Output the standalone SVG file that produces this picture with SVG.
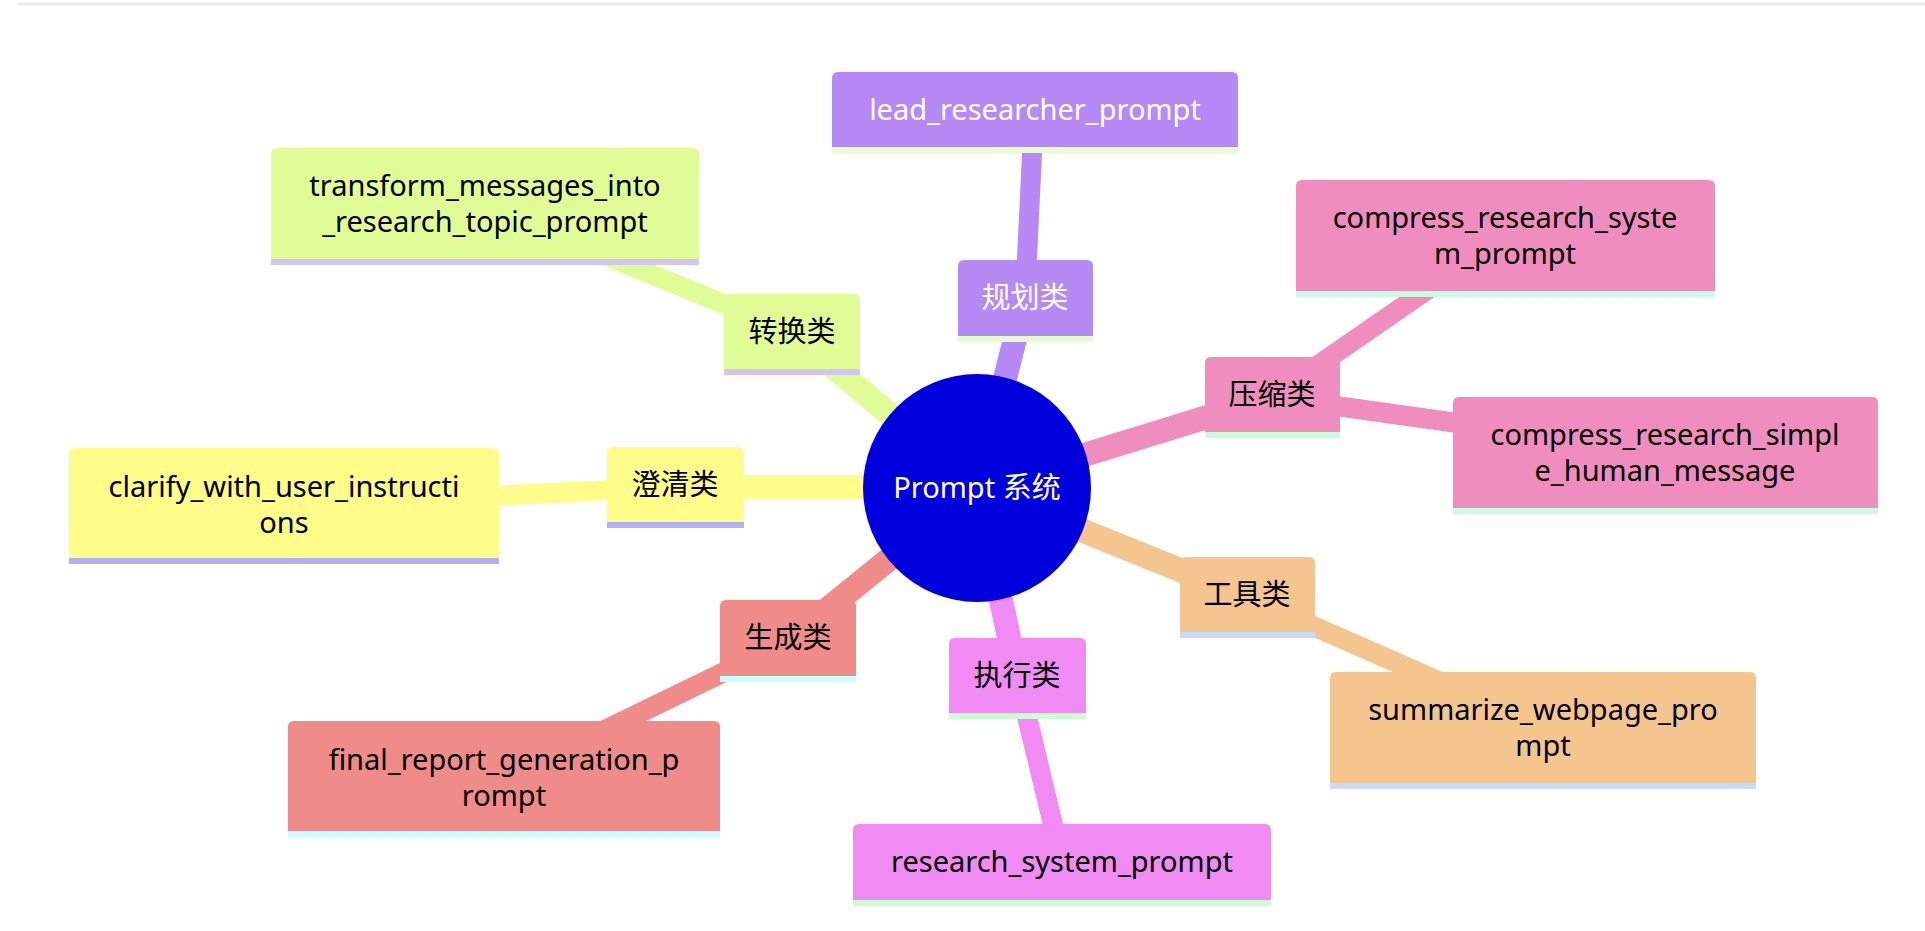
<svg xmlns="http://www.w3.org/2000/svg" width="1925" height="931" viewBox="0 0 1925 931">
<style>
text{font-family:"Noto Sans","Noto Sans CJK SC",sans-serif;font-size:29px;text-anchor:middle;fill:#000}
.w{fill:#fff}
.c1{stroke-width:24;fill:none}
.c2{stroke-width:20;fill:none}
</style>
<rect width="1925" height="931" fill="#fff"/>
<line x1="18" y1="4" x2="1925" y2="4" stroke="#ececec" stroke-width="3"/>
<g id="connectors">
<line class="c1" stroke="#b689f4" x1="977" y1="488" x2="1025" y2="300"/>
<line class="c2" stroke="#b689f4" x1="1025" y1="300" x2="1034" y2="112"/>
<line class="c1" stroke="#e0fc96" x1="977" y1="488" x2="792" y2="332"/>
<line class="c2" stroke="#e0fc96" x1="792" y1="332" x2="485" y2="206"/>
<line class="c1" stroke="#fffc8a" x1="977" y1="487" x2="675" y2="487"/>
<line class="c2" stroke="#fffc8a" x1="675" y1="487" x2="284" y2="506"/>
<line class="c1" stroke="#ef8b88" x1="977" y1="488" x2="788" y2="641"/>
<line class="c2" stroke="#ef8b88" x1="788" y1="641" x2="504" y2="779"/>
<line class="c1" stroke="#f08bf4" x1="977" y1="488" x2="1017" y2="675"/>
<line class="c2" stroke="#f08bf4" x1="1017" y1="675" x2="1062" y2="862"/>
<line class="c1" stroke="#f5c590" x1="977" y1="488" x2="1247" y2="597"/>
<line class="c2" stroke="#f5c590" x1="1247" y1="597" x2="1543" y2="727"/>
<line class="c1" stroke="#ef8dbe" x1="977" y1="488" x2="1272" y2="397"/>
<line class="c2" stroke="#ef8dbe" x1="1272" y1="397" x2="1505" y2="236"/>
<line class="c2" stroke="#ef8dbe" x1="1272" y1="397" x2="1665" y2="452"/>
</g>
<g id="center">
<circle cx="977" cy="488" r="114" fill="#0000dd"/>
<text class="w" x="977" y="498">Prompt 系统</text>
</g>
<g id="n-lead">
<path d="M832,147 V78 Q832,72 838,72 H1232 Q1238,72 1238,78 V147 Z" fill="#b689f4"/>
<rect x="832" y="147" width="406" height="6" fill="#e6fccc"/>
<text class="w" x="1035" y="120">lead_researcher_prompt</text>
</g>
<g id="n-plan">
<path d="M958,336 V266 Q958,260 964,260 H1087 Q1093,260 1093,266 V336 Z" fill="#b689f4"/>
<rect x="958" y="336" width="135" height="6" fill="#e6fccc"/>
<text class="w" x="1025" y="308">规划类</text>
</g>
<g id="n-transform">
<path d="M271,259 V154 Q271,148 277,148 H693 Q699,148 699,154 V259 Z" fill="#e0fc96"/>
<rect x="271" y="259" width="428" height="6" fill="#d2c4f4"/>
<text x="485" y="196">transform_messages_into</text>
<text x="485" y="232">_research_topic_prompt</text>
</g>
<g id="n-convert">
<path d="M724,369 V300 Q724,294 730,294 H854 Q860,294 860,300 V369 Z" fill="#e0fc96"/>
<rect x="724" y="369" width="136" height="6" fill="#d2c4f4"/>
<text x="792" y="342">转换类</text>
</g>
<g id="n-compress-sys">
<path d="M1296,291 V186 Q1296,180 1302,180 H1709 Q1715,180 1715,186 V291 Z" fill="#ef8dbe"/>
<rect x="1296" y="291" width="419" height="6" fill="#ccfce0"/>
<text x="1505" y="228">compress_research_syste</text>
<text x="1505" y="264">m_prompt</text>
</g>
<g id="n-compress">
<path d="M1205,432 V363 Q1205,357 1211,357 H1334 Q1340,357 1340,363 V432 Z" fill="#ef8dbe"/>
<rect x="1205" y="432" width="135" height="6" fill="#ccfce0"/>
<text x="1272" y="405">压缩类</text>
</g>
<g id="n-compress-simple">
<path d="M1453,508 V403 Q1453,397 1459,397 H1872 Q1878,397 1878,403 V508 Z" fill="#ef8dbe"/>
<rect x="1453" y="508" width="425" height="6" fill="#ccfce0"/>
<text x="1665" y="445">compress_research_simpl</text>
<text x="1665" y="481">e_human_message</text>
</g>
<g id="n-clarify">
<path d="M69,558 V454 Q69,448 75,448 H493 Q499,448 499,454 V558 Z" fill="#fffc8a"/>
<rect x="69" y="558" width="430" height="6" fill="#b0b0f5"/>
<text x="284" y="497">clarify_with_user_instructi</text>
<text x="284" y="533">ons</text>
</g>
<g id="n-clarify-cat">
<path d="M607,522 V453 Q607,447 613,447 H738 Q744,447 744,453 V522 Z" fill="#fffc8a"/>
<rect x="607" y="522" width="137" height="6" fill="#b0b0f5"/>
<text x="675" y="495">澄清类</text>
</g>
<g id="n-gen">
<path d="M720,676 V606 Q720,600 726,600 H850 Q856,600 856,606 V676 Z" fill="#ef8b88"/>
<rect x="720" y="676" width="136" height="6" fill="#ccffff"/>
<text x="788" y="648">生成类</text>
</g>
<g id="n-final">
<path d="M288,831 V727 Q288,721 294,721 H714 Q720,721 720,727 V831 Z" fill="#ef8b88"/>
<rect x="288" y="831" width="432" height="6" fill="#ccffff"/>
<text x="504" y="770">final_report_generation_p</text>
<text x="504" y="806">rompt</text>
</g>
<g id="n-exec">
<path d="M949,713 V644 Q949,638 955,638 H1080 Q1086,638 1086,644 V713 Z" fill="#f08bf4"/>
<rect x="949" y="713" width="137" height="6" fill="#cdfcd0"/>
<text x="1017" y="686">执行类</text>
</g>
<g id="n-research">
<path d="M853,900 V830 Q853,824 859,824 H1265 Q1271,824 1271,830 V900 Z" fill="#f08bf4"/>
<rect x="853" y="900" width="418" height="6" fill="#cdfcd0"/>
<text x="1062" y="872">research_system_prompt</text>
</g>
<g id="n-tool">
<path d="M1180,632 V563 Q1180,557 1186,557 H1309 Q1315,557 1315,563 V632 Z" fill="#f5c590"/>
<rect x="1180" y="632" width="135" height="6" fill="#c6dcf8"/>
<text x="1247" y="605">工具类</text>
</g>
<g id="n-summarize">
<path d="M1330,783 V678 Q1330,672 1336,672 H1750 Q1756,672 1756,678 V783 Z" fill="#f5c590"/>
<rect x="1330" y="783" width="426" height="6" fill="#c6dcf8"/>
<text x="1543" y="720">summarize_webpage_pro</text>
<text x="1543" y="756">mpt</text>
</g>
</svg>
